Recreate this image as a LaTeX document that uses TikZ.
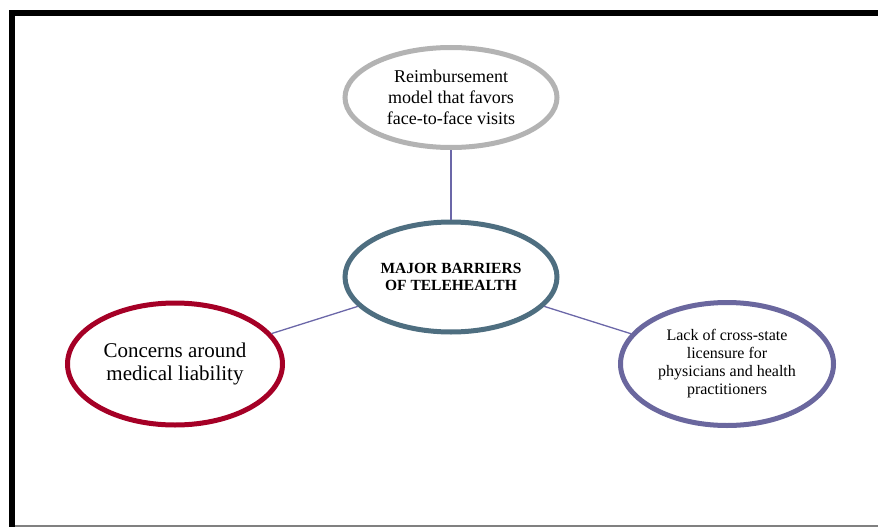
\documentclass[tikz,border=0pt]{standalone}
\usepackage{fontspec}
\setmainfont{Liberation Serif}
\usetikzlibrary{shapes.geometric}

\definecolor{paygrey}{HTML}{B3B3B3}
\definecolor{hubblue}{HTML}{4E6E80}
\definecolor{liabred}{HTML}{A50026}
\definecolor{licpurple}{HTML}{6A679E}
\definecolor{linkpurple}{HTML}{6B67A8}

\begin{document}
\begin{tikzpicture}[x=1pt,y=-1pt]
\tikzstyle{barrier} = [ellipse, line width=5pt, fill=white, align=center, inner sep=0pt]
\tikzstyle{link} = [line width=1.3pt, draw=linkpurple]

\useasboundingbox (0,0) rectangle (878,527);

% frame
\draw[line width=6pt] (12,527) -- (12,13) -- (878,13);
\draw[gray, line width=1.5pt] (15,526) -- (878,526);

% the four ellipses
\node[barrier, draw=hubblue, minimum width=212pt, minimum height=110pt,
      font=\fontsize{15.5}{17}\selectfont\bfseries] (hub) at (451,277)
  {MAJOR BARRIERS\\OF TELEHEALTH};
\node[barrier, draw=paygrey, minimum width=212pt, minimum height=100pt,
      font=\fontsize{18}{21}\selectfont] (pay) at (451,97.5)
  {Reimbursement\\model that favors\\face-to-face visits};
\node[barrier, draw=liabred, minimum width=215pt, minimum height=122pt,
      font=\fontsize{21}{23}\selectfont] (liab) at (175,364)
  {Concerns around\\medical liability};
\node[barrier, draw=licpurple, minimum width=213pt, minimum height=123pt,
      font=\fontsize{16}{18}\selectfont] (lic) at (727,364)
  {Lack of cross-state\\licensure for\\physicians and health\\practitioners};

% connectors
\draw[link] (pay) -- (hub);
\draw[link] (hub) -- (liab);
\draw[link] (hub) -- (lic);

\end{tikzpicture}
\end{document}
